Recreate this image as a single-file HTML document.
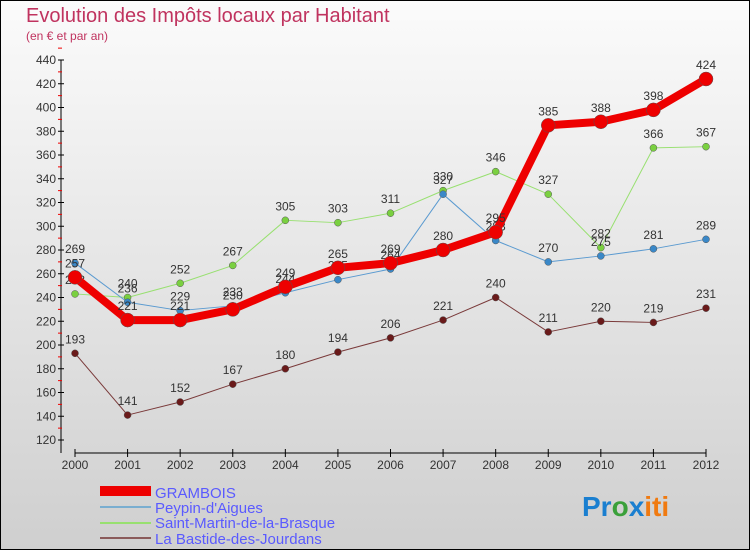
<!DOCTYPE html>
<html><head><meta charset="utf-8"><style>
body{margin:0}
#c{width:750px;height:550px;position:relative;overflow:hidden;font-family:"Liberation Sans",sans-serif}
</style></head><body>
<div id="c">
<svg id="s" width="750" height="550" xmlns="http://www.w3.org/2000/svg">
<defs><linearGradient id="bg" x1="0" y1="0" x2="0" y2="1"><stop offset="0" stop-color="#fbfbfb"/><stop offset="1" stop-color="#cfcfcf"/></linearGradient></defs>
<rect x="0.5" y="0.5" width="749" height="549" fill="url(#bg)" stroke="#000"/>
<text x="26" y="22" font-size="20" fill="#c0335f">Evolution des Impôts locaux par Habitant</text>
<text x="26" y="40" font-size="12" fill="#c0335f">(en € et par an)</text>
<g id="axes"></g><g id="series"></g>
<g>
<rect x="100" y="486" width="51" height="10" fill="#e00"/>
<text x="155" y="498" font-size="15" fill="#5a5aff">GRAMBOIS</text>
<rect x="100" y="506" width="51" height="2" fill="#7aaed0"/>
<text x="155" y="513" font-size="15" fill="#5a5aff">Peypin-d'Aigues</text>
<rect x="100" y="522" width="51" height="2" fill="#98e070"/>
<text x="155" y="528" font-size="15" fill="#5a5aff">Saint-Martin-de-la-Brasque</text>
<rect x="100" y="537" width="51" height="2" fill="#8a5a5a"/>
<text x="155" y="544" font-size="15" fill="#5a5aff">La Bastide-des-Jourdans</text>
</g>
<text x="582" y="516" font-size="28" font-weight="bold"><tspan fill="#1a7fd0">Pr</tspan><tspan fill="#3aa03a">o</tspan><tspan fill="#1a7fd0">x</tspan><tspan fill="#f07a10">iti</tspan></text>
</svg>
</div>
<script>
const years=[2000,2001,2002,2003,2004,2005,2006,2007,2008,2009,2010,2011,2012];
const yTicks=[120,140,160,180,200,220,240,260,280,300,320,340,360,380,400,420,440];
const grambois=[257,221,221,230,249,265,269,280,295,385,388,398,424];
const peypin=[269,236,229,233,244,255,264,327,288,270,275,281,289];
const saintMartin=[243,240,252,267,305,303,311,330,346,327,282,366,367];
const bastide=[193,141,152,167,180,194,206,221,240,211,220,219,231];
const NS="http://www.w3.org/2000/svg";
const x=i=>75+i*(706-75)/(years.length-1);
const y=v=>60+(440-v)*380/320;
function mk(t,a,p){const e=document.createElementNS(NS,t);for(const k in a)e.setAttribute(k,a[k]);p.appendChild(e);return e;}
const ax=document.getElementById('axes');
const yl=mk('line',{x1:61,y1:y(440),x2:61,y2:453,stroke:'#000'},ax);


yTicks.forEach(v=>{
  mk('line',{x1:58,y1:y(v),x2:64,y2:y(v),stroke:'#000'},ax);
  mk('line',{x1:58,y1:y(v+10),x2:62,y2:y(v+10),stroke:'#e00'},ax);
  const t=mk('text',{x:56,y:y(v)+4,'font-size':12,'text-anchor':'end',fill:'#333'},ax);
  t.textContent=v;
  
  
});
const xl=mk('line',{x1:75,y1:453,x2:706,y2:453,stroke:'#000'},ax);


years.forEach((yr,i)=>{
  mk('line',{x1:x(i),y1:449,x2:x(i),y2:457,stroke:'#000'},ax);
  const t=mk('text',{x:x(i),y:469,'font-size':12,'text-anchor':'middle',fill:'#333'},ax);
  t.textContent=yr;
  
  
});
const sg=document.getElementById('series');
function draw(data,name,color,w,r,dot){
  const g=mk('g',{},sg);
  
  
  mk('polyline',{points:data.map((v,i)=>x(i)+','+y(v)).join(' '),fill:'none',stroke:color,'stroke-width':w,'stroke-linejoin':'round'},g);
  data.forEach((v,i)=>{
    const c=mk('circle',{cx:x(i),cy:y(v),r:r,fill:dot,stroke:'#555','stroke-width':0.5},g);
    
    
    const t=mk('text',{x:x(i),y:y(v)-10,'font-size':12,'text-anchor':'middle',fill:'#333'},g);
    t.textContent=v;
    
    
  });
}
draw(bastide,'bastide','#7a3a3a',1,3.5,'#6a1a1a');
draw(saintMartin,'saint-martin','#98e070',1,3.5,'#7ad040');
draw(peypin,'peypin','#5a9ad0',1,3.5,'#3a88c8');
draw(grambois,'grambois','#e00',8,7,'#e00');
</script>
</body></html>
